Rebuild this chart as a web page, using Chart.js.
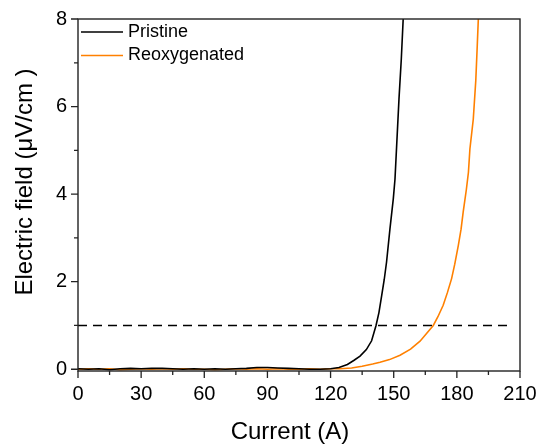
<!DOCTYPE html>
<html lang="en">
<head>
  <meta charset="UTF-8">
  <title>Electric field vs current</title>
  <script src="https://cdn.jsdelivr.net/npm/chart.js"></script>
  <style>
    body { margin: 0; background: #fff; }
    #wrap { width: 540px; height: 445px; }
  </style>
</head>
<body>
  <div id="wrap"><canvas id="ivChart" width="540" height="445"></canvas></div>
  <script>
    // Pristine sample: current (A) and electric field (uV/cm)
    const pristineCurrent = [0, 5, 10, 15, 20, 25, 30, 35, 40, 45, 50, 55, 60, 65, 70, 75, 80, 85, 90, 95, 100, 105, 110, 115, 120,
      124, 128, 131, 134, 137, 139.5, 141.6, 143, 144.3, 145.5, 146.6, 148.2, 149.8, 150.6, 152.5, 153.6, 154.5];
    const pristineField = [0.01, 0.0, 0.01, -0.01, 0.01, 0.02, 0.01, 0.02, 0.02, 0.01, 0.0, 0.01, 0.0, 0.01, 0.0, 0.01, 0.02, 0.04, 0.04, 0.03, 0.02, 0.01, 0.0, 0.0, 0.01,
      0.04, 0.11, 0.2, 0.3, 0.45, 0.65, 1.0, 1.3, 1.69, 2.05, 2.45, 3.2, 3.89, 4.34, 6.17, 7.08, 8.0];

    // Reoxygenated sample
    const reoxCurrent = [0, 5, 10, 15, 20, 25, 30, 35, 40, 45, 50, 55, 60, 65, 70, 75, 80, 85, 90, 95, 100, 105, 110, 115, 120,
      124.5, 130, 135, 140, 143.5, 148, 153, 158, 162.5, 166, 168.8, 171, 173.5, 175.5, 177.5, 179, 180.7, 182, 183, 184.5, 185.5, 186.2, 187.8, 189, 189.7, 190.2];
    const reoxField = [0.0, 0.01, 0.0, 0.01, -0.01, 0.0, 0.01, 0.0, 0.01, 0.0, 0.01, 0.0, 0.0, -0.01, 0.0, 0.01, 0.0, 0.01, 0.0, 0.01, 0.0, 0.0, 0.01, 0.0, 0.01,
      0.01, 0.03, 0.07, 0.12, 0.16, 0.22, 0.32, 0.46, 0.64, 0.84, 1.0, 1.2, 1.46, 1.75, 2.07, 2.4, 2.83, 3.2, 3.59, 4.1, 4.5, 5.03, 5.71, 6.6, 7.4, 8.0];

    // 1 uV/cm criterion line
    const criterionCurrent = [0, 206];
    const criterionField = [1, 1];

    const seriesLabels = ['Pristine', 'Reoxygenated'];
    const seriesColors = ['#000000', '#ff8000'];

    const xTitle = 'Current (A)';
    const yTitle = 'Electric field (\u03bcV/cm )';

    function toPoints(xs, ys) {
      return xs.map((x, i) => ({ x: x, y: ys[i] }));
    }

    const fontFamily = '"Liberation Sans", Arial, sans-serif';

    // Frame, tick marks, legend and axis titles
    const framePlugin = {
      id: 'frame',
      afterDraw(chart) {
        const ctx = chart.ctx;
        const a = chart.chartArea;
        const xs = chart.scales.x;
        const ys = chart.scales.y;
        ctx.save();
        ctx.strokeStyle = '#222';
        ctx.lineWidth = 1.4;
        ctx.strokeRect(a.left, a.top, a.right - a.left, a.bottom - a.top);

        ctx.lineWidth = 1.3;
        ctx.beginPath();
        xs.ticks.forEach(t => {
          const px = xs.getPixelForValue(t.value);
          const len = t.value % 30 === 0 ? 7 : 4;
          ctx.moveTo(px, a.bottom);
          ctx.lineTo(px, a.bottom + len);
        });
        ys.ticks.forEach(t => {
          const py = ys.getPixelForValue(t.value);
          const len = t.value % 2 === 0 ? 7 : 4;
          ctx.moveTo(a.left, py);
          ctx.lineTo(a.left - len, py);
        });
        ctx.stroke();

        // legend
        ctx.font = '18px ' + fontFamily;
        ctx.textBaseline = 'middle';
        ctx.textAlign = 'left';
        seriesLabels.forEach((lab, i) => {
          const y = 32 + i * 23.5;
          ctx.strokeStyle = seriesColors[i];
          ctx.lineWidth = 1.5;
          ctx.beginPath();
          ctx.moveTo(a.left + 3, y);
          ctx.lineTo(a.left + 45, y);
          ctx.stroke();
          ctx.fillStyle = '#000';
          ctx.fillText(lab, a.left + 50, y);
        });

        // axis titles
        ctx.fillStyle = '#000';
        ctx.font = '24px ' + fontFamily;
        ctx.textAlign = 'center';
        ctx.fillText(xTitle, 290, 432);
        ctx.translate(25, 182);
        ctx.rotate(-Math.PI / 2);
        ctx.fillText(yTitle, 0, 0);
        ctx.restore();
      }
    };

    const ctx = document.getElementById('ivChart').getContext('2d');
    new Chart(ctx, {
      type: 'line',
      data: {
        datasets: [
          {
            label: seriesLabels[0],
            data: toPoints(pristineCurrent, pristineField),
            borderColor: seriesColors[0],
            borderWidth: 1.6,
            pointRadius: 0,
            tension: 0
          },
          {
            label: seriesLabels[1],
            data: toPoints(reoxCurrent, reoxField),
            borderColor: seriesColors[1],
            borderWidth: 1.6,
            pointRadius: 0,
            tension: 0
          },
          {
            label: 'criterion',
            data: toPoints(criterionCurrent, criterionField),
            borderColor: '#000',
            borderWidth: 1.5,
            borderDash: [9, 6],
            pointRadius: 0
          }
        ]
      },
      options: {
        responsive: false,
        animation: false,
        layout: { padding: { top: 19, right: 20, left: 0, bottom: 0 } },
        plugins: {
          legend: { display: false },
          tooltip: { enabled: false }
        },
        scales: {
          x: {
            type: 'linear',
            min: 0,
            max: 210,
            grid: { display: false, drawTicks: false },
            border: { display: false },
            afterFit: s => { s.height = 74; s.paddingLeft = 0; s.paddingRight = 0; },
            ticks: {
              stepSize: 15,
              autoSkip: false,
              maxRotation: 0,
              padding: 11,
              color: '#000',
              font: { family: fontFamily, size: 20 },
              callback: v => (v % 30 === 0 ? String(v) : '')
            }
          },
          y: {
            min: -0.04,
            max: 8,
            grid: { display: false, drawTicks: false },
            border: { display: false },
            afterFit: s => { s.width = 78; s.paddingTop = 0; s.paddingBottom = 0; },
            ticks: {
              stepSize: 1,
              includeBounds: false,
              padding: 11,
              color: '#000',
              font: { family: fontFamily, size: 20 },
              callback: v => (v % 2 === 0 ? String(v) : '')
            }
          }
        }
      },
      plugins: [framePlugin]
    });
  </script>
</body>
</html>
